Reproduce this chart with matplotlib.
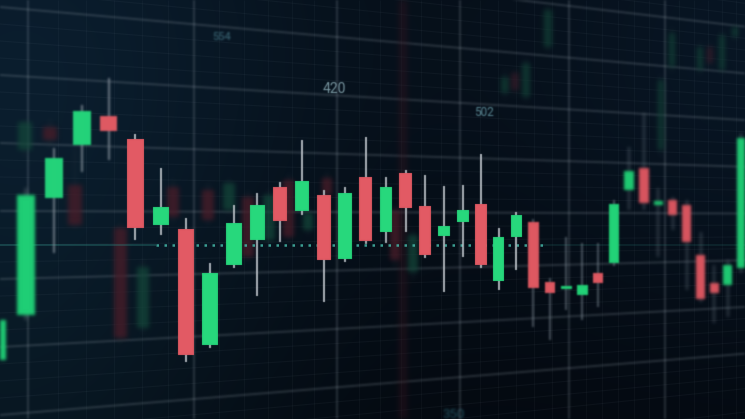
import numpy as np
import matplotlib
matplotlib.use("Agg")
import matplotlib.pyplot as plt
from matplotlib.collections import LineCollection

# ---------------- data (prices) ----------------
candle_idx = list(range(39))
opens  = [59, 104, 221, 274, 303, 280, 194, 190, 74, 154, 179, 232, 208, 224, 160,
          242, 187, 246, 213, 183, 197, 215, 138, 182, 197, 137, 130, 124, 146, 156,
          229, 251, 214, 219, 214, 164, 136, 134, 151]
closes = [99, 224, 261, 308, 288, 191, 212, 64, 146, 196, 214, 198, 238, 159, 226,
          178, 232, 211, 164, 193, 209, 154, 182, 204, 131, 126, 133, 134, 136, 215,
          248, 216, 218, 204, 177, 120, 126, 154, 281]
highs  = [109, 231, 271, 314, 341, 285, 251, 201, 156, 214, 226, 237, 279, 229, 232,
          282, 242, 249, 244, 233, 234, 265, 191, 207, 200, 141, 182, 176, 176, 219,
          272, 306, 231, 222, 219, 187, 154, 159, 286]
lows   = [49, 99, 166, 247, 259, 179, 184, 57, 71, 151, 123, 177, 204, 117, 157,
          175, 176, 187, 161, 127, 162, 151, 129, 149, 92, 79, 109, 99, 112, 153,
          209, 209, 162, 189, 129, 117, 96, 102, 146]

# faded candles of the background layer
ghost_idx   = [0.96, 1.84, 2.74, 4.42, 5.30, 6.48, 7.91, 8.79, 9.60, 10.51, 11.40, 12.27,
               13.15, 16.45, 17.37, 22.36, 22.93, 23.58, 24.88, 32.18, 32.95, 34.95,
               35.68, 36.58, 37.57]
ghost_open  = [269, 292, 234, 191, 91, 232, 229, 209, 222, 179, 239, 189, 241, 209, 147,
               326, 346, 322, 372, 269, 352, 349, 372, 349, 382]
ghost_close = [297, 279, 194, 81, 152, 202, 199, 236, 162, 224, 182, 206, 224, 159, 184,
               342, 329, 356, 409, 339, 386, 372, 356, 384, 392]
ghost_high  = [300, 300, 272, 196, 160, 240, 236, 240, 228, 230, 245, 212, 247, 214, 190,
               350, 352, 362, 415, 345, 392, 378, 378, 390, 396]
ghost_low   = [262, 270, 190, 76, 85, 196, 194, 204, 157, 172, 176, 184, 219, 150, 140,
               320, 322, 316, 366, 262, 346, 344, 350, 344, 378]

last_price = 174
axis_labels = ["554", "420", "502", "350"]

# ---------------- helpers ----------------
class GaussBlur:
    def __init__(self, sigma):
        self.sigma = sigma

    def __call__(self, im, dpi):
        s = self.sigma
        r = max(1, int(np.ceil(3 * s)))
        xs = np.arange(-r, r + 1)
        k = np.exp(-0.5 * (xs / s) ** 2)
        k /= k.sum()
        a = np.pad(im, ((r, r), (r, r), (0, 0))).astype(float)
        a[..., :3] *= a[..., 3:4]
        t = np.zeros_like(a)
        for j, w in enumerate(k):
            t += w * np.roll(a, j - r, axis=0)
        o = np.zeros_like(t)
        for j, w in enumerate(k):
            o += w * np.roll(t, j - r, axis=1)
        al = o[..., 3:4]
        rgb = np.where(al > 1e-6, o[..., :3] / np.maximum(al, 1e-6), 0.0)
        return np.concatenate([np.clip(rgb, 0, 1), np.clip(al, 0, 1)], axis=2), -r, -r


C_PERSP = 0.01335


def fwd(i):
    i = np.asarray(i, float)
    return i / (1.0 + C_PERSP * np.maximum(i, -60))


def inv(u):
    u = np.asarray(u, float)
    return u / (1.0 - C_PERSP * np.minimum(u, 70))


W, H = 745, 419
fig = plt.figure(figsize=(7.45, 4.19), dpi=100)

# ---------------- background ----------------
ax_bg = fig.add_axes([0, 0, 1, 1])
yy, xx = np.mgrid[0:H, 0:W].astype(float)
bg = np.zeros((H, W, 3))
bg[..., 0] = 3
bg[..., 1] = 7
bg[..., 2] = 13
g1 = np.exp(-(((xx - 20) ** 2 + (yy - 40) ** 2) / (2 * 240.0 ** 2)))
g2 = np.exp(-(((xx - 770) ** 2 + (yy - 50) ** 2) / (2 * 220.0 ** 2)))
g3 = np.exp(-(((xx - 0) ** 2 + (yy - 419) ** 2) / (2 * 180.0 ** 2)))
bg += g1[..., None] * np.array([7, 21, 31])
bg += g2[..., None] * np.array([5, 14, 22])
bg += g3[..., None] * np.array([3, 10, 12])
ax_bg.imshow(np.clip(bg / 255.0, 0, 1), extent=(0, W, H, 0), aspect="auto",
             interpolation="bilinear", zorder=0)
ax_bg.set_xlim(0, W)
ax_bg.set_ylim(H, 0)
ax_bg.axis("off")

VPX, VPY = 2380.0, 219.0
major_y0 = [-61, 7, 75, 143, 211, 279, 347, 415]
for y0 in major_y0:
    ln, = ax_bg.plot([0, W], [y0, y0 + (VPY - y0) * W / VPX], color="#a6b2bc",
                     alpha=0.26, lw=1.3, zorder=2)
    ln.set_agg_filter(GaussBlur(1.1))

minor_segs = []
for k in range(-8, 34):
    y0 = -61 + 17 * k
    if (k % 4) == 0:
        continue
    minor_segs.append([(0, y0), (W, y0 + (VPY - y0) * W / VPX)])
lc = LineCollection(minor_segs, colors="#8fa0ad", alpha=0.06, lw=0.8, zorder=1)
ax_bg.add_collection(lc)

label_pos = [(212, 37), (323, 89), (474, 112), (442, 414)]
label_col = ["#41707f", "#7896a0", "#5c8a96", "#24535f"]
label_fs = [8, 10, 8.5, 9.5]
label_blur = [1.0, 0.6, 0.7, 1.2]
for t, (px, py), c, fs, bl in zip(axis_labels, label_pos, label_col, label_fs, label_blur):
    tx = ax_bg.text(px, py, t, color=c, fontsize=fs, family="Roboto",
                    ha="left", va="center", zorder=3)
    tx.set_agg_filter(GaussBlur(bl))

# ---------------- main chart axes ----------------
ax = fig.add_axes([0, 0, 1, 1])
ax.patch.set_alpha(0)
ax.set_xscale("function", functions=(fwd, inv))
ax.set_xlim(0.1018, 38.33)
ax.set_ylim(0, H)
ax.axis("off")

# vertical grid (perspective spaced in candle units)
vmajor = [1.07 + 6.27 * k for k in range(6)]
for v in vmajor:
    ln = ax.axvline(v, color="#a6b2bc", alpha=0.25, lw=1.3, zorder=2)
    ln.set_agg_filter(GaussBlur(1.1))
vminor = [1.07 + 6.27 * k / 6 for k in range(-1, 37) if k % 6]
ax.vlines(vminor, 0, H, colors="#8fa0ad", alpha=0.05, lw=0.8, zorder=1)

# dark blurred band (out of focus wick)
band = ax.axvline(16.86, color="#3a1620", alpha=0.4, lw=6, zorder=2.5)
band.set_agg_filter(GaussBlur(3))


def draw_candles(idx, o, c, h, l, width, up_col, dn_col, wick_col, wick_alpha,
                 body_alpha, sigma, wick_lw, z):
    idx = np.asarray(idx, float)
    o = np.asarray(o, float)
    c = np.asarray(c, float)
    h = np.asarray(h, float)
    l = np.asarray(l, float)
    if len(idx) == 0:
        return
    wl = ax.vlines(idx, l, h, colors=wick_col, alpha=wick_alpha, lw=wick_lw, zorder=z)
    wl.set_agg_filter(GaussBlur(sigma * 1.2))
    cols = [up_col if cc >= oo else dn_col for oo, cc in zip(o, c)]
    bars = ax.bar(idx, np.maximum(np.abs(c - o), 2.5), bottom=np.minimum(o, c),
                  width=width, color=cols, alpha=body_alpha, linewidth=0, zorder=z + 0.1)
    for p in bars.patches:
        p.set_agg_filter(GaussBlur(sigma))


# ghosts
gi = np.asarray(ghost_idx)
gsel1 = gi < 20
gsel2 = ~gsel1
arr = lambda L, m: np.asarray(L, float)[m]
draw_candles(arr(ghost_idx, gsel1), arr(ghost_open, gsel1), arr(ghost_close, gsel1),
             arr(ghost_high, gsel1), arr(ghost_low, gsel1), 0.5,
             "#13483a", "#4e1c28", "#2a363f", 0.45, 0.7, 2.4, 1.5, 3)
draw_candles(arr(ghost_idx, gsel2), arr(ghost_open, gsel2), arr(ghost_close, gsel2),
             arr(ghost_high, gsel2), arr(ghost_low, gsel2), 0.45,
             "#124538", "#3c1c29", "#23323a", 0.45, 0.65, 2.6, 1.5, 3)

# last price line
ax.hlines(last_price, 0.1, 5.8, colors="#2f8f86", alpha=0.35, lw=1.3, zorder=4)
ax.hlines(last_price, 5.8, 24.6, colors="#45b8a8", alpha=0.85, lw=1.8,
          linestyles=[(0, (1.0, 2.2))], zorder=4)
ax.hlines(last_price, 24.6, 38.33, colors="#2f8f86", alpha=0.18, lw=1.2, zorder=4)

# foreground candles, grouped by focus depth
groups = [
    (range(0, 2), 1.7, "#6f7c86", 0.8, "#20cf76", "#dc5660"),
    (range(2, 5), 1.0, "#8b96a0", 0.85, "#24d47a", "#e05a63"),
    (range(5, 24), 0.45, "#c3c9cf", 0.95, "#27d87c", "#e25a64"),
    (range(24, 30), 0.9, "#7f8b95", 0.6, "#22d277", "#de5861"),
    (range(30, 39), 1.5, "#6a7782", 0.55, "#1fca72", "#d9555f"),
]
for rg, sg, wc, wa, uc, dc in groups:
    sel = list(rg)
    draw_candles([candle_idx[j] for j in sel], [opens[j] for j in sel],
                 [closes[j] for j in sel], [highs[j] for j in sel],
                 [lows[j] for j in sel], 0.64, uc, dc, wc, wa, 1.0, sg, 1.3, 5)

fig.savefig("out.png", dpi=100)
